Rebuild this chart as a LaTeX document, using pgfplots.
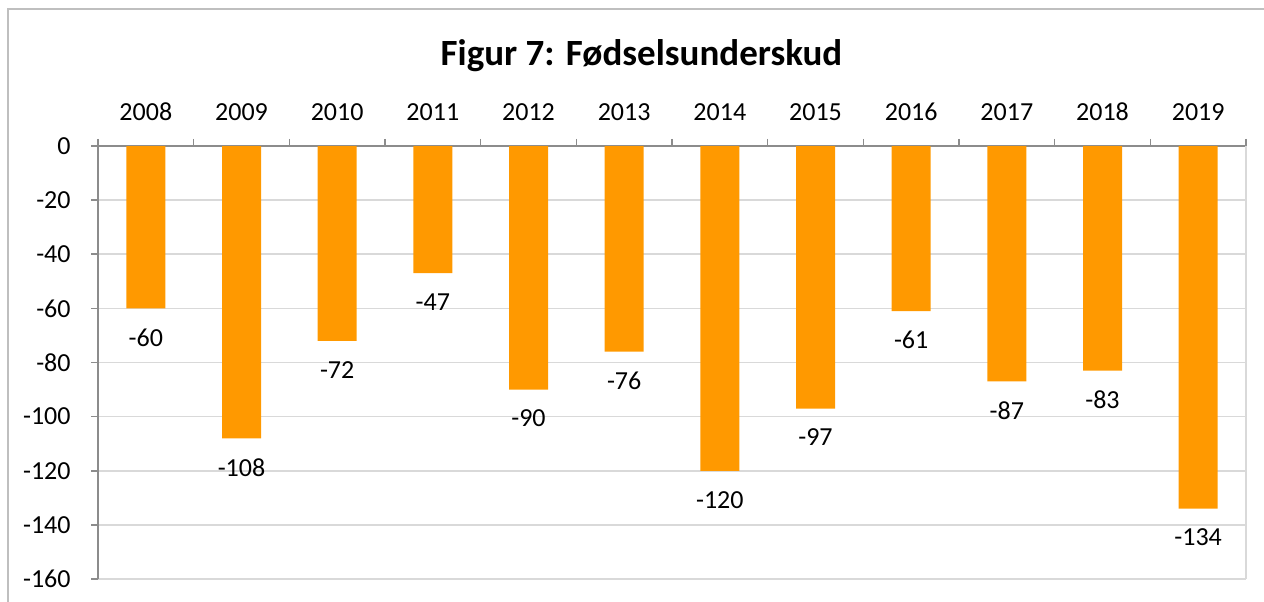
\documentclass[border=0pt]{standalone}
\usepackage{pgfplots}
\pgfplotsset{compat=1.18}
\usepackage{fontspec}
\setmainfont{Carlito}
\definecolor{barorange}{HTML}{FF9900}
\definecolor{axisgray}{HTML}{8C8C8C}
\definecolor{gridgray}{HTML}{D9D9D9}
\definecolor{framegray}{HTML}{BFBFBF}
\begin{document}
\begin{tikzpicture}
\useasboundingbox (0pt,0pt) rectangle (632pt,300.5pt);
\draw[framegray, line width=1pt] (4pt,-20pt) -- (4pt,296pt) -- (700pt,296pt);
\node[font=\fontsize{18.5}{22}\selectfont\bfseries, anchor=base] at (320.75pt,267.5pt) {Figur 7: Fødselsunderskud};
\begin{axis}[
  at={(49pt,11pt)}, anchor=south west,
  scale only axis, width=574pt, height=216.5pt,
  xmin=0.5, xmax=12.5, ymin=-160, ymax=0,
  axis x line*=top, axis y line*=left,
  axis line style={axisgray, line width=0.8pt},
  xtick={1,...,12},
  xticklabels={2008,2009,2010,2011,2012,2013,2014,2015,2016,2017,2018,2019},
  major x tick style={draw=none},
  minor xtick={0.5,1.5,...,12.5},
  minor x tick style={axisgray, line width=0.8pt},
  minor tick length=3.5pt,
  xtick align=inside,
  ytick={0,-20,...,-160},
  ytick align=outside,
  major tick length=3.5pt,
  y tick style={axisgray, line width=0.8pt},
  ymajorgrids, grid style={gridgray, line width=0.8pt},
  /pgf/number format/assume math mode=true,
  ticklabel style={font=\fontsize{13}{15}\selectfont},
  xticklabel style={anchor=base, yshift=9.5pt},
  yticklabel style={anchor=east, inner sep=0pt, xshift=-10pt},
  ybar, bar width=19.5pt, bar shift=0pt,
  nodes near coords,
  every node near coord/.append style={anchor=center, yshift=-14.5pt, font=\fontsize{13}{15}\selectfont, text=black},
  clip=false,
]
\addplot[fill=barorange, draw=none] coordinates {
  (1,-60) (2,-108) (3,-72) (4,-47) (5,-90) (6,-76)
  (7,-120) (8,-97) (9,-61) (10,-87) (11,-83) (12,-134)
};
\draw[gridgray, line width=0.8pt] (rel axis cs:1,0) -- (rel axis cs:1,1);
\end{axis}
\end{tikzpicture}
\end{document}
